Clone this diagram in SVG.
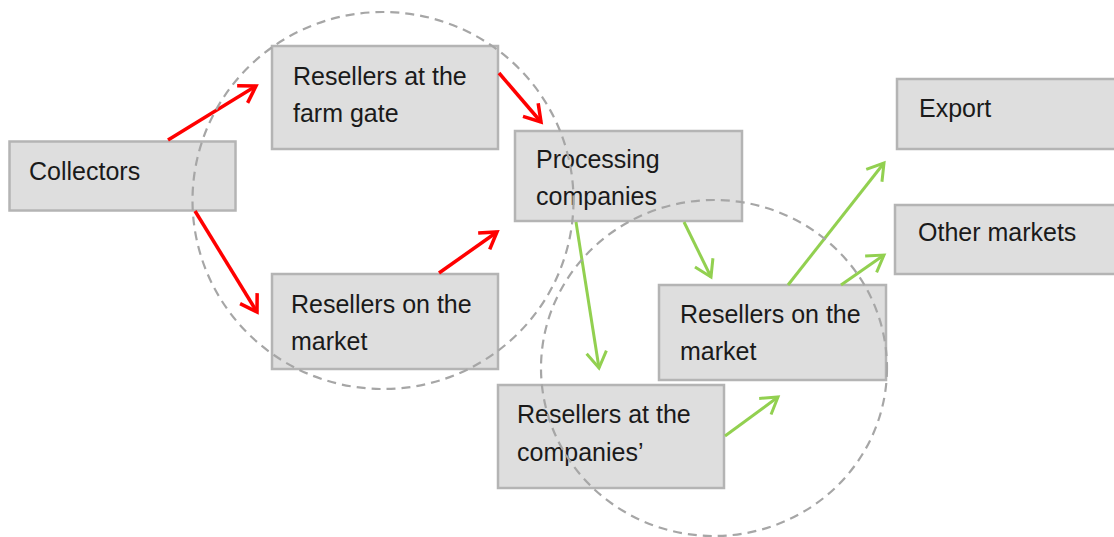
<svg xmlns="http://www.w3.org/2000/svg" width="1114" height="537" viewBox="0 0 1114 537">
<style>
.box{fill:#dedede;stroke:#b4b4b4;stroke-width:2.5}
.lbl{font-family:"Liberation Sans",Arial,sans-serif;font-size:25px;fill:#1a1a1a}
.red{stroke:#ff0000;stroke-width:3.5;fill:none}
.grn{stroke:#92d050;stroke-width:3;fill:none}
.ring{fill:none;stroke:#a6a6a6;stroke-width:2.2;stroke-dasharray:9 6}
</style>
<defs>
<marker id="ar" markerUnits="userSpaceOnUse" markerWidth="30" markerHeight="30" viewBox="0 0 30 30" refX="24" refY="15" orient="auto">
<path d="M8,5 L24,15 L8,25" fill="none" stroke="#ff0000" stroke-width="3.5"/>
</marker>
<marker id="ag" markerUnits="userSpaceOnUse" markerWidth="30" markerHeight="30" viewBox="0 0 30 30" refX="24" refY="15" orient="auto">
<path d="M8,5 L24,15 L8,25" fill="none" stroke="#92d050" stroke-width="3"/>
</marker>
</defs>
<rect width="1114" height="537" fill="#ffffff"/>
<g id="collectors"><rect class="box" x="9.5" y="141.5" width="226" height="69"/><text class="lbl" x="29" y="180">Collectors</text></g>
<g id="farmgate"><rect class="box" x="272" y="46" width="226" height="103"/><text class="lbl" x="293" y="85">Resellers at the</text><text class="lbl" x="293" y="122">farm gate</text></g>
<g id="processing"><rect class="box" x="515" y="131" width="227" height="90"/><text class="lbl" x="536" y="168">Processing</text><text class="lbl" x="536" y="205">companies</text></g>
<g id="market-left"><rect class="box" x="272" y="274" width="226" height="95"/><text class="lbl" x="291" y="313">Resellers on the</text><text class="lbl" x="291" y="350">market</text></g>
<g id="export"><rect class="box" x="897" y="79" width="222" height="70"/><text class="lbl" x="919" y="117">Export</text></g>
<g id="other"><rect class="box" x="895" y="205" width="224" height="69"/><text class="lbl" x="918" y="241">Other markets</text></g>
<g id="market-right"><rect class="box" x="659" y="285" width="227" height="95"/><text class="lbl" x="680" y="323">Resellers on the</text><text class="lbl" x="680" y="360">market</text></g>
<g id="companies"><rect class="box" x="498" y="385" width="226" height="103"/><text class="lbl" x="517" y="423">Resellers at the</text><text class="lbl" x="517" y="461">companies’</text></g>
<g id="connectors">
<line class="red" x1="168" y1="140" x2="256" y2="86" marker-end="url(#ar)"/>
<line class="red" x1="195" y1="211" x2="257" y2="312" marker-end="url(#ar)"/>
<line class="red" x1="499" y1="73" x2="541" y2="122" marker-end="url(#ar)"/>
<line class="red" x1="439" y1="273" x2="497" y2="232" marker-end="url(#ar)"/>
<line class="grn" x1="576" y1="222" x2="599" y2="368" marker-end="url(#ag)"/>
<line class="grn" x1="684" y1="222" x2="711" y2="277" marker-end="url(#ag)"/>
<line class="grn" x1="788" y1="285" x2="884" y2="163" marker-end="url(#ag)"/>
<line class="grn" x1="841" y1="285" x2="884" y2="255" marker-end="url(#ag)"/>
<line class="grn" x1="725" y1="436" x2="778" y2="397" marker-end="url(#ag)"/>
</g>
<g id="groups">
<ellipse class="ring" cx="383" cy="200.5" rx="190.5" ry="188.5"/>
<ellipse class="ring" cx="714" cy="368" rx="173" ry="168"/>
</g>
</svg>
